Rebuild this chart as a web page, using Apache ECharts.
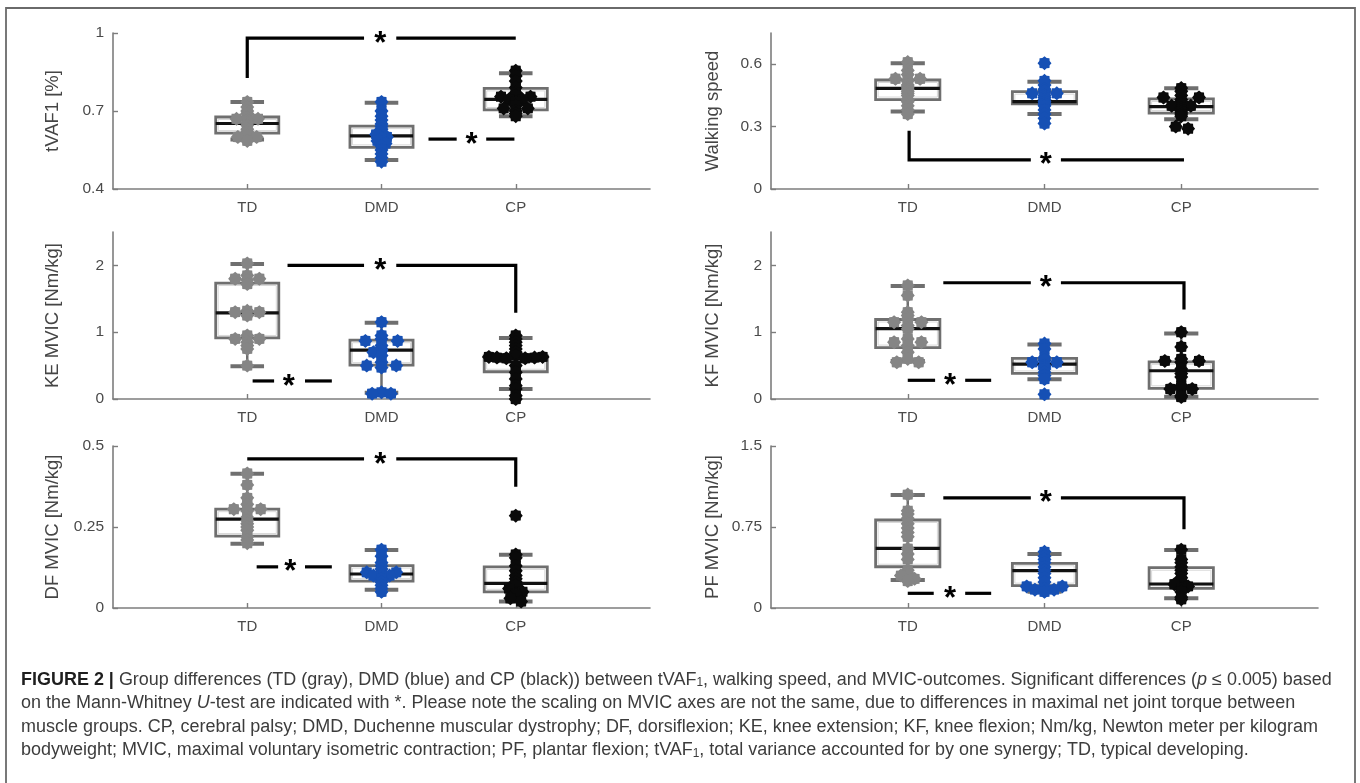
<!DOCTYPE html>
<html><head><meta charset="utf-8">
<script src="https://cdn.jsdelivr.net/npm/echarts@6/dist/echarts.min.js"></script>
<style>html,body{margin:0;padding:0;background:#fff}#c{width:1360px;height:783px}</style>
</head><body><div id="c"></div>
<script>
// ---------------- DATA ----------------
const categories = ['TD', 'DMD', 'CP'];
const yNames = ['tVAF1 [%]', 'Walking speed', 'KE MVIC [Nm/kg]', 'KF MVIC [Nm/kg]', 'DF MVIC [Nm/kg]', 'PF MVIC [Nm/kg]'];
const yMin = [0.4, 0, 0, 0, 0, 0];
const yMax = [1, 0.75, 2.5, 2.5, 0.5, 1.5];
const yTicks = [[0.4, 0.7, 1], [0, 0.3, 0.6], [0, 1, 2], [0, 1, 2], [0, 0.25, 0.5], [0, 0.75, 1.5]];

// box stats per panel: [lowWhisker, Q1, median, Q3, highWhisker] for TD, DMD, CP
const boxTVAF = [[0.59, 0.615, 0.652, 0.677, 0.735], [0.512, 0.56, 0.604, 0.642, 0.732], [0.68, 0.704, 0.745, 0.787, 0.845]];
const boxSpeed = [[0.372, 0.43, 0.484, 0.524, 0.604], [0.36, 0.409, 0.42, 0.468, 0.516], [0.335, 0.365, 0.396, 0.433, 0.484]];
const boxKE = [[0.49, 0.914, 1.289, 1.736, 2.02], [0.095, 0.507, 0.731, 0.88, 1.14], [0.15, 0.408, 0.632, 0.647, 0.915]];
const boxKF = [[0.567, 0.77, 1.055, 1.19, 1.69], [0.294, 0.383, 0.522, 0.607, 0.816], [0.035, 0.16, 0.423, 0.557, 0.98]];
const boxDF = [[0.198, 0.222, 0.274, 0.305, 0.414], [0.056, 0.083, 0.105, 0.131, 0.179], [0.02, 0.05, 0.076, 0.127, 0.164]];
const boxPF = [[0.26, 0.382, 0.553, 0.815, 1.046], [0.151, 0.207, 0.346, 0.414, 0.5], [0.09, 0.182, 0.222, 0.373, 0.537]];

// individual points: values and horizontal jitter (category units)
const tvafTD = [0.735, 0.715, 0.70, 0.69, 0.675, 0.67, 0.67, 0.665, 0.655, 0.645, 0.63, 0.62, 0.605, 0.60, 0.60, 0.585];
const tvafTDj = [0, 0, 0, 0, 0, -0.08, 0.08, 0, 0, 0, 0, 0, 0, -0.07, 0.07, 0];
const tvafDMD = [0.735, 0.70, 0.68, 0.665, 0.65, 0.64, 0.63, 0.62, 0.61, 0.60, 0.595, 0.585, 0.575, 0.565, 0.55, 0.535, 0.52, 0.505];
const tvafDMDj = [0, 0, 0, 0, 0, 0, 0, 0, -0.04, 0.04, 0, -0.03, 0.03, 0, 0, 0, 0, 0];
const tvafCP = [0.855, 0.835, 0.815, 0.79, 0.77, 0.76, 0.755, 0.755, 0.745, 0.745, 0.735, 0.72, 0.71, 0.71, 0.70, 0.69, 0.68];
const tvafCPj = [0, 0, 0, 0, 0, 0, -0.11, 0.11, -0.05, 0.05, 0, 0, -0.09, 0.09, 0, 0, 0];

const speedTD = [0.61, 0.57, 0.55, 0.53, 0.53, 0.52, 0.50, 0.49, 0.48, 0.47, 0.46, 0.45, 0.43, 0.42, 0.40, 0.38, 0.36];
const speedTDj = [0, 0, 0, -0.09, 0.09, 0, 0, 0, 0, 0, 0, 0, 0, 0, 0, 0, 0];
const speedDMD = [0.605, 0.52, 0.50, 0.48, 0.47, 0.46, 0.46, 0.45, 0.44, 0.43, 0.42, 0.41, 0.40, 0.38, 0.36, 0.34, 0.315];
const speedDMDj = [0, 0, 0, 0, 0, -0.09, 0.09, 0, 0, 0, 0, 0, 0, 0, 0, 0, 0];
const speedCP = [0.485, 0.47, 0.45, 0.44, 0.44, 0.43, 0.42, 0.41, 0.40, 0.40, 0.39, 0.38, 0.37, 0.36, 0.35, 0.30, 0.29];
const speedCPj = [0, 0, 0, -0.13, 0.13, 0, 0, 0, -0.07, 0.07, 0, 0, 0, 0, 0, -0.04, 0.05];

const keTD = [2.03, 1.85, 1.80, 1.80, 1.78, 1.72, 1.32, 1.30, 1.30, 1.25, 0.95, 0.90, 0.90, 0.85, 0.80, 0.75, 0.50];
const keTDj = [0, 0, -0.09, 0.09, 0, 0, 0, -0.09, 0.09, 0, 0, -0.09, 0.09, 0, 0, 0, 0];
const keDMD = [1.15, 0.95, 0.90, 0.87, 0.87, 0.80, 0.75, 0.72, 0.70, 0.65, 0.55, 0.50, 0.50, 0.47, 0.10, 0.08, 0.08];
const keDMDj = [0, 0, 0, -0.12, 0.12, 0, 0, 0, -0.06, 0, 0, -0.11, 0.11, 0, 0, -0.07, 0.07];
const keCP = [0.95, 0.90, 0.85, 0.80, 0.75, 0.70, 0.65, 0.63, 0.63, 0.62, 0.62, 0.61, 0.61, 0.50, 0.40, 0.30, 0.20, 0.15, 0.05, 0.0];
const keCPj = [0, 0, 0, 0, 0, 0, 0, -0.2, 0.2, -0.14, 0.14, -0.07, 0.07, 0, 0, 0, 0, 0, 0, 0];

const kfTD = [1.70, 1.55, 1.30, 1.25, 1.20, 1.15, 1.15, 1.10, 1.05, 0.90, 0.85, 0.85, 0.80, 0.70, 0.60, 0.55, 0.55];
const kfTDj = [0, 0, 0, 0, 0, -0.1, 0.1, 0, 0, 0, -0.1, 0.1, 0, 0, 0, -0.08, 0.08];
const kfDMD = [0.83, 0.75, 0.62, 0.58, 0.55, 0.55, 0.50, 0.48, 0.45, 0.40, 0.35, 0.30, 0.07];
const kfDMDj = [0, 0, 0, 0, -0.09, 0.09, 0, 0, 0, 0, 0, 0, 0];
const kfCP = [1.00, 0.78, 0.60, 0.57, 0.57, 0.55, 0.45, 0.38, 0.33, 0.20, 0.17, 0.15, 0.15, 0.05, 0.03];
const kfCPj = [0, 0, 0, -0.12, 0.13, 0, 0, 0, 0, 0, 0, -0.08, 0.08, 0, 0];

const dfTD = [0.415, 0.38, 0.34, 0.32, 0.305, 0.305, 0.30, 0.28, 0.27, 0.26, 0.25, 0.24, 0.22, 0.21, 0.20];
const dfTDj = [0, 0, 0, 0, -0.1, 0.1, 0, 0, 0, 0, 0, 0, 0, 0, 0];
const dfDMD = [0.18, 0.16, 0.14, 0.13, 0.12, 0.11, 0.11, 0.11, 0.10, 0.10, 0.09, 0.08, 0.07, 0.06, 0.05];
const dfDMDj = [0, 0, 0, 0, 0, -0.11, 0.11, 0, -0.06, 0.06, 0, 0, 0, 0, 0];
const dfCP = [0.285, 0.165, 0.155, 0.13, 0.115, 0.10, 0.09, 0.08, 0.07, 0.06, 0.05, 0.045, 0.04, 0.03, 0.02];
const dfCPj = [0, 0, 0, 0, 0, 0, 0, 0, 0, -0.05, 0.05, 0, 0, -0.04, 0.04];

const pfTD = [1.05, 0.90, 0.87, 0.83, 0.78, 0.74, 0.70, 0.66, 0.55, 0.50, 0.45, 0.35, 0.32, 0.30, 0.27, 0.25];
const pfTDj = [0, 0, 0, 0, 0, 0, 0, 0, 0, 0, 0, 0, 0, -0.05, 0.05, 0];
const pfDMD = [0.52, 0.48, 0.45, 0.42, 0.38, 0.35, 0.32, 0.28, 0.24, 0.20, 0.20, 0.18, 0.17, 0.17, 0.15];
const pfDMDj = [0, 0, 0, 0, 0, 0, 0, 0, 0, -0.13, 0.13, 0, -0.07, 0.07, 0];
const pfCP = [0.54, 0.45, 0.42, 0.38, 0.35, 0.32, 0.28, 0.25, 0.22, 0.20, 0.18, 0.15, 0.10, 0.08];
const pfCPj = [0, 0, 0, 0, 0, 0, 0, 0, -0.05, 0.05, 0, 0, 0, 0];

// significance brackets: polylines [x, y] in (category units, value) and star positions
const bracketLines = [
  [[[1, 0.827], [1, 0.98], [1.87, 0.98]], [[2.11, 0.98], [3, 0.98]], [[2.35, 0.592], [2.56, 0.592]], [[2.78, 0.592], [2.99, 0.592]]],
  [[[1.01, 0.28], [1.01, 0.14], [1.9, 0.14]], [[2.12, 0.14], [3.02, 0.14]]],
  [[[1.3, 2.0], [1.87, 2.0]], [[2.11, 2.0], [3, 2.0], [3, 1.29]], [[1.04, 0.27], [1.2, 0.27]], [[1.43, 0.27], [1.63, 0.27]]],
  [[[1.26, 1.74], [1.9, 1.74]], [[2.12, 1.74], [3.02, 1.74], [3.02, 1.34]], [[1.0, 0.28], [1.2, 0.28]], [[1.42, 0.28], [1.61, 0.28]]],
  [[[1.0, 0.46], [1.87, 0.46]], [[2.11, 0.46], [3, 0.46], [3, 0.374]], [[1.07, 0.127], [1.23, 0.127]], [[1.43, 0.127], [1.63, 0.127]]],
  [[[1.26, 1.02], [1.9, 1.02]], [[2.12, 1.02], [3.02, 1.02], [3.02, 0.73]], [[1.0, 0.136], [1.19, 0.136]], [[1.42, 0.136], [1.61, 0.136]]]
];
const starPos = [
  [[1.99, 0.98], [2.67, 0.592]],
  [[2.01, 0.14]],
  [[1.99, 2.0], [1.31, 0.27]],
  [[2.01, 1.74], [1.31, 0.28]],
  [[1.99, 0.46], [1.32, 0.127]],
  [[2.01, 1.02], [1.31, 0.136]]
];

const captionLines = [
  '{b|FIGURE 2 |} Group differences (TD (gray), DMD (blue) and CP (black)) between tVAF{s|1}, walking speed, and MVIC-outcomes. Significant differences ({i|p} \u2264 0.005) based',
  'on the Mann-Whitney {i|U}-test are indicated with *. Please note the scaling on MVIC axes are not the same, due to differences in maximal net joint torque between',
  'muscle groups. CP, cerebral palsy; DMD, Duchenne muscular dystrophy; DF, dorsiflexion; KE, knee extension; KF, knee flexion; Nm/kg, Newton meter per kilogram',
  'bodyweight; MVIC, maximal voluntary isometric contraction; PF, plantar flexion; tVAF{s|1}, total variance accounted for by one synergy; TD, typical developing.'
];

// ---------------- BUILD ----------------
const boxes = [boxTVAF, boxSpeed, boxKE, boxKF, boxDF, boxPF];
const pts = [
  [[tvafTD, tvafTDj], [tvafDMD, tvafDMDj], [tvafCP, tvafCPj]],
  [[speedTD, speedTDj], [speedDMD, speedDMDj], [speedCP, speedCPj]],
  [[keTD, keTDj], [keDMD, keDMDj], [keCP, keCPj]],
  [[kfTD, kfTDj], [kfDMD, kfDMDj], [kfCP, kfCPj]],
  [[dfTD, dfTDj], [dfDMD, dfDMDj], [dfCP, dfCPj]],
  [[pfTD, pfTDj], [pfDMD, pfDMDj], [pfCP, pfCPj]]
];
const groupColors = ['#858585', '#1650b4', '#0a0a0a'];
const gridRects = [[113, 33, 537, 156], [771, 33, 547, 156], [113, 232, 537, 167], [771, 232, 547, 167], [113, 446, 537, 162], [771, 446, 547, 162]];
const FONT = '"Liberation Sans", Arial, sans-serif';
const AXC = '#7d7d7d';

function starSymbol(n, rIn) {
  let d = '';
  for (let i = 0; i < 2 * n; i++) {
    const a = Math.PI * i / n - Math.PI / 2;
    const r = i % 2 ? rIn : 1;
    d += (i ? 'L' : 'M') + (50 + 50 * r * Math.cos(a)).toFixed(2) + ' ' + (50 + 50 * r * Math.sin(a)).toFixed(2);
  }
  return 'path://' + d + 'Z';
}
const SYM = starSymbol(8, 0.8);

const grid = [], xAxis = [], yAxis = [], series = [];
for (let p = 0; p < 6; p++) {
  const g = gridRects[p];
  grid.push({ left: g[0], top: g[1], width: g[2], height: g[3], containLabel: false });
  xAxis.push({
    gridIndex: p, type: 'value', min: 0, max: 4,
    axisLine: { show: true, onZero: false, lineStyle: { color: AXC, width: 1.6 } },
    axisTick: { show: true, inside: true, length: 5, customValues: [1, 2, 3], lineStyle: { color: AXC, width: 1.4 } },
    axisLabel: { customValues: [1, 2, 3], formatter: v => categories[Math.round(v) - 1] || '', color: '#4a4a4a', fontSize: 15, fontFamily: FONT, margin: 11 },
    splitLine: { show: false }
  });
  yAxis.push({
    gridIndex: p, type: 'value', min: yMin[p], max: yMax[p],
    name: yNames[p], nameLocation: 'middle', nameGap: p % 2 === 0 ? 51 : 49,
    nameTextStyle: { fontSize: 18.5, color: '#454545', fontFamily: FONT },
    axisLine: { show: true, onZero: false, lineStyle: { color: AXC, width: 1.6 } },
    axisTick: { show: true, inside: true, length: 5, customValues: yTicks[p], lineStyle: { color: AXC, width: 1.4 } },
    axisLabel: { customValues: yTicks[p], color: '#4a4a4a', fontSize: 15.5, fontFamily: FONT, margin: 9 },
    splitLine: { show: false }
  });
  // boxes
  series.push({
    type: 'custom', xAxisIndex: p, yAxisIndex: p, z: 2, clip: false,
    data: boxes[p].map((b, i) => [i + 1].concat(b)),
    renderItem: function (params, api) {
      const x = api.value(0);
      const lo = api.value(1), q1 = api.value(2), med = api.value(3), q3 = api.value(4), hi = api.value(5);
      const hw = 0.235, cw = 0.125;
      const A = (u, v) => api.coord([u, v]);
      const gray = '#6f6f6f';
      const tl = A(x - hw, q3), br = A(x + hw, q1);
      const ch = [];
      ch.push({ type: 'line', shape: { x1: A(x, q3)[0], y1: A(x, q3)[1], x2: A(x, hi)[0], y2: A(x, hi)[1] }, style: { stroke: gray, lineWidth: 2.5 } });
      ch.push({ type: 'line', shape: { x1: A(x, q1)[0], y1: A(x, q1)[1], x2: A(x, lo)[0], y2: A(x, lo)[1] }, style: { stroke: gray, lineWidth: 2.5 } });
      ch.push({ type: 'line', shape: { x1: A(x - cw, hi)[0], y1: A(x - cw, hi)[1], x2: A(x + cw, hi)[0], y2: A(x + cw, hi)[1] }, style: { stroke: gray, lineWidth: 4 } });
      ch.push({ type: 'line', shape: { x1: A(x - cw, lo)[0], y1: A(x - cw, lo)[1], x2: A(x + cw, lo)[0], y2: A(x + cw, lo)[1] }, style: { stroke: gray, lineWidth: 4 } });
      ch.push({ type: 'rect', shape: { x: tl[0], y: tl[1], width: br[0] - tl[0], height: br[1] - tl[1] }, style: { fill: 'rgba(0,0,0,0)', stroke: gray, lineWidth: 2.8 } });
      ch.push({ type: 'rect', shape: { x: tl[0] + 2.5, y: tl[1] + 2.5, width: br[0] - tl[0] - 5, height: Math.max(0, br[1] - tl[1] - 5) }, style: { fill: 'rgba(0,0,0,0)', stroke: '#d8d8d8', lineWidth: 1 } });
      ch.push({ type: 'line', shape: { x1: A(x - hw, med)[0], y1: A(x - hw, med)[1], x2: A(x + hw, med)[0], y2: A(x + hw, med)[1] }, style: { stroke: '#111', lineWidth: 3.2 } });
      return { type: 'group', children: ch };
    }
  });
  // points
  for (let gI = 0; gI < 3; gI++) {
    const vals = pts[p][gI][0], jit = pts[p][gI][1];
    series.push({
      type: 'scatter', xAxisIndex: p, yAxisIndex: p, z: 3,
      symbol: SYM, symbolSize: 14,
      itemStyle: { color: groupColors[gI], opacity: 1 },
      data: vals.map((v, k) => [gI + 1 + jit[k], v])
    });
  }
  // significance brackets
  const lines = bracketLines[p], stars = starPos[p];
  series.push({
    type: 'custom', xAxisIndex: p, yAxisIndex: p, z: 4, clip: false,
    data: [0],
    renderItem: function (params, api) {
      const ch = [];
      lines.forEach(pl => {
        ch.push({ type: 'polyline', shape: { points: pl.map(q => api.coord(q)) }, style: { stroke: '#000', lineWidth: 3.2, fill: null, lineJoin: 'miter' } });
      });
      stars.forEach(s => {
        const c = api.coord(s);
        ch.push({ type: 'text', x: c[0], y: c[1] + 6, style: { text: '*', fontSize: 31, fontWeight: 'bold', fontFamily: FONT, fill: '#000', align: 'center', verticalAlign: 'middle' } });
      });
      return { type: 'group', children: ch };
    }
  });
}

// caption font size fitted to the measured line width
const ctx = document.createElement('canvas').getContext('2d');
ctx.font = '100px "Liberation Sans"';
const capSize = 1298 / ctx.measureText(captionLines[2]).width * 100;
const capColor = '#3c3c3c';
const capY = [680, 703.5, 727, 750.5];
const graphic = [
  { type: 'rect', shape: { x: 6, y: 8, width: 1349, height: 800 }, style: { fill: 'none', stroke: '#6a6a6a', lineWidth: 1.8 }, silent: true }
];
captionLines.forEach((t, i) => {
  graphic.push({
    type: 'text', x: 21, y: capY[i],
    style: {
      text: t, fontSize: capSize, fontFamily: FONT, fill: capColor, verticalAlign: 'middle', align: 'left',
      rich: {
        b: { fontWeight: 'bold', fontSize: capSize, fontFamily: FONT, fill: '#1e1e1e' },
        i: { fontStyle: 'italic', fontSize: capSize, fontFamily: FONT, fill: capColor },
        s: { fontSize: capSize * 0.66, fontFamily: FONT, fill: capColor, verticalAlign: 'bottom' }
      }
    }
  });
});

const chart = echarts.init(document.getElementById('c'), null, { renderer: 'canvas' });
chart.setOption({
  animation: false,
  backgroundColor: '#fff',
  textStyle: { fontFamily: FONT },
  grid, xAxis, yAxis, series, graphic
});
</script></body></html>
